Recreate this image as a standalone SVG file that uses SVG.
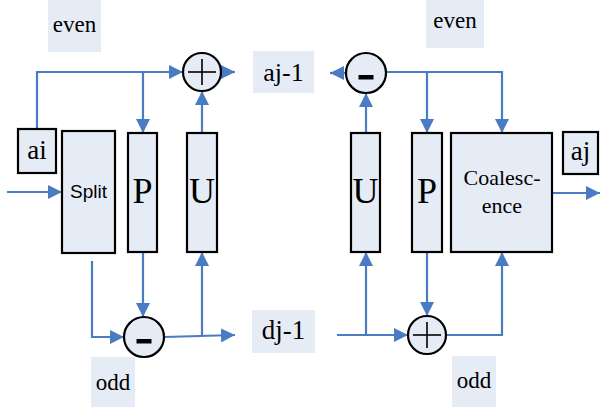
<svg xmlns="http://www.w3.org/2000/svg" width="600" height="407" viewBox="0 0 600 407">
<defs>
<marker id="ah" markerUnits="userSpaceOnUse" markerWidth="14" markerHeight="14" refX="14" refY="7" orient="auto">
<path d="M0,0 L14,7 L0,14 z" fill="#4A7CC4"/>
</marker>
<style>
.blk{fill:#E6ECF6;stroke:#000;stroke-width:2.2}
.lbl{fill:#E6ECF6}
.c{fill:none;stroke:#4A7CC4;stroke-width:2.2}
.a{marker-end:url(#ah)}
.t{fill:#000;text-anchor:middle}
.s{fill:#000;text-anchor:middle}
.op{stroke:#000;stroke-width:1.6}
</style>
</defs>
<rect width="600" height="407" fill="#fff"/>

<g id="connectors">
<polyline class="c a" points="37,129 37,72 183,72"/>
<polyline class="c a" points="143,72 143,133"/>
<polyline class="c a" points="221,72 235,72"/>
<polyline class="c a" points="202,133 202,91"/>
<polyline class="c a" points="7,192 62,192"/>
<polyline class="c a" points="92,261 92,337 124,337"/>
<polyline class="c a" points="143,252 143,317"/>
<polyline class="c a" points="164,337 235,335"/>
<polyline class="c a" points="202,336 202,252"/>
<polyline class="c a" points="346,73 330,73"/>
<polyline class="c a" points="386,72 502,72 502,133"/>
<polyline class="c a" points="427,72 427,133"/>
<polyline class="c a" points="366,133 366,93"/>
<polyline class="c a" points="552,193 600,193"/>
<polyline class="c a" points="337,335 408,335"/>
<polyline class="c a" points="366,335 366,252"/>
<polyline class="c a" points="427,252 427,316"/>
<polyline class="c a" points="446,335 502,335 502,252"/>
</g>

<g font-family="Liberation Serif, DejaVu Serif, Times New Roman, serif">
<g id="label-even-left"><rect class="lbl" x="48" y="0" width="53" height="52"/><text class="t" x="74.5" y="32" font-size="23">even</text></g>
<g id="label-even-right"><rect class="lbl" x="426" y="0" width="58" height="48"/><text class="t" x="455" y="28" font-size="23">even</text></g>
<g id="label-aj1"><rect class="lbl" x="253" y="51" width="61" height="42"/><text class="t" x="283.5" y="81" font-size="26">aj-1</text></g>
<g id="label-dj1"><rect class="lbl" x="252" y="310" width="63" height="43"/><text class="t" x="283.5" y="339" font-size="27">dj-1</text></g>
<g id="label-odd-left"><rect class="lbl" x="91" y="357" width="44" height="50"/><text class="t" x="113" y="390" font-size="23">odd</text></g>
<g id="label-odd-right"><rect class="lbl" x="452" y="356" width="44" height="51"/><text class="t" x="474" y="388" font-size="23">odd</text></g>

<g id="node-ai"><rect class="blk" x="18" y="129" width="38" height="44"/><text class="t" x="37" y="159" font-size="27">ai</text></g>
<g id="node-split"><rect class="blk" x="62" y="131" width="53" height="122"/><text class="s" x="88.5" y="198" font-size="19" font-family="Liberation Sans, Arial, sans-serif">Split</text></g>
<g id="node-p-left"><rect class="blk" x="128" y="133" width="29" height="119"/><text class="t" x="142.5" y="203" font-size="36">P</text></g>
<g id="node-u-left"><rect class="blk" x="187" y="133" width="30" height="119"/><text class="t" x="202" y="203" font-size="36">U</text></g>
<g id="node-plus-top"><circle class="blk" cx="202" cy="72" r="19"/><line class="op" x1="188" y1="72" x2="216" y2="72"/><line class="op" x1="202" y1="59" x2="202" y2="85"/></g>
<g id="node-minus-bottom"><circle class="blk" cx="144" cy="337" r="20"/><rect x="136.5" y="339" width="15" height="4.5" fill="#000"/></g>

<g id="node-u-right"><rect class="blk" x="351" y="133" width="29" height="119"/><text class="t" x="365.5" y="203" font-size="36">U</text></g>
<g id="node-p-right"><rect class="blk" x="412" y="133" width="30" height="119"/><text class="t" x="427" y="203" font-size="36">P</text></g>
<g id="node-coalescence"><rect class="blk" x="451" y="133" width="101" height="119"/><text class="t" x="502" y="185" font-size="22">Coalesc-</text><text class="t" x="502" y="213" font-size="22">ence</text></g>
<g id="node-aj"><rect class="blk" x="563" y="132" width="35" height="42"/><text class="t" x="580.5" y="160" font-size="27">aj</text></g>
<g id="node-minus-top"><circle class="blk" cx="366" cy="73" r="20"/><rect x="358.5" y="75" width="15" height="4.5" fill="#000"/></g>
<g id="node-plus-bottom"><circle class="blk" cx="427" cy="335" r="19"/><line class="op" x1="413" y1="335" x2="441" y2="335"/><line class="op" x1="427" y1="322" x2="427" y2="348"/></g>
</g>
</svg>
